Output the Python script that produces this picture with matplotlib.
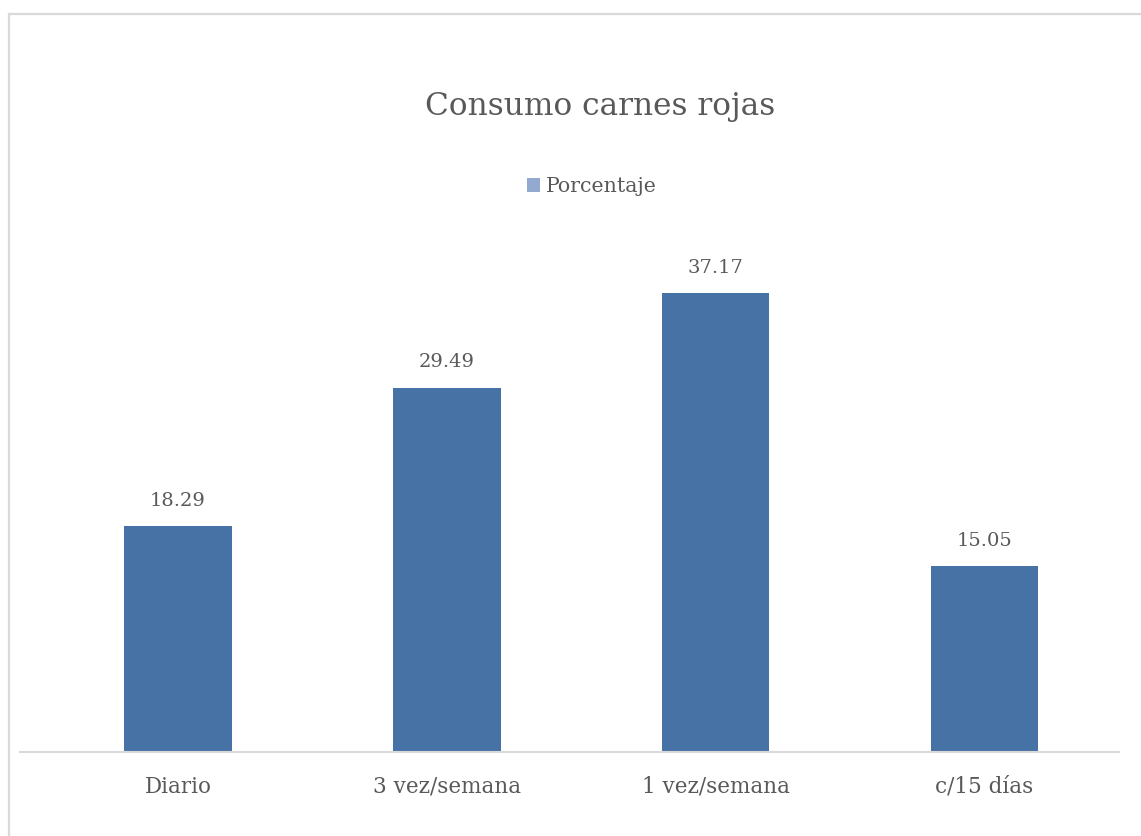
import matplotlib
matplotlib.use("Agg")
import matplotlib.pyplot as plt
from matplotlib.patches import Rectangle, Patch

# --- data ---
categorias = ["Diario", "3 vez/semana", "1 vez/semana", "c/15 días"]
porcentaje = [18.29, 29.49, 37.17, 15.05]

W, H = 1141, 836
bar_color = "#4672a6"
text_color = "#595959"

plt.rcParams['font.family'] = ['DejaVu Serif']

fig = plt.figure(figsize=(W / 100, H / 100), dpi=100)

# chart area border (light grey frame)
fig.patches.append(Rectangle((8.5 / W, -0.1), 1.2, (H - 13.5) / H + 0.1,
                             transform=fig.transFigure, fill=False,
                             edgecolor="#d9d9d9", linewidth=1.6))

ax = fig.add_axes([20 / W, (H - 752) / H, (1119 - 20) / W, (752 - 257.6) / H])
x = range(len(categorias))
bars = ax.bar(x, porcentaje, width=0.4, color=bar_color)

for b, v in zip(bars, porcentaje):
    ax.text(b.get_x() + b.get_width() / 2, v + 1.3, f"{v:.2f}",
            ha="center", va="bottom", fontsize=14, color=text_color)

ax.set_xlim(-0.5 - 23.5 / 269, 3.5)
ax.set_ylim(0, 40)
ax.set_xticks(list(x))
ax.set_xticklabels(categorias, fontsize=15.5, color=text_color)
ax.tick_params(axis="x", length=0, pad=17)
ax.set_yticks([])
for s in ["top", "right", "left"]:
    ax.spines[s].set_visible(False)
ax.spines["bottom"].set_color("#d9d9d9")
ax.spines["bottom"].set_linewidth(1.5)

fig.text(600 / W, 1 - 106 / H, "Consumo carnes rojas", ha="center", va="center",
         fontsize=22.5, color=text_color)

handle = Patch(facecolor="#93a9cf", edgecolor="none")
fig.legend([handle], ["Porcentaje"], loc="center", bbox_to_anchor=(592 / W, 1 - 187 / H),
           frameon=False, fontsize=14.8, handlelength=0.65, handleheight=0.65,
           handletextpad=0.3, labelcolor=text_color)

fig.savefig("out.png", dpi=100)
